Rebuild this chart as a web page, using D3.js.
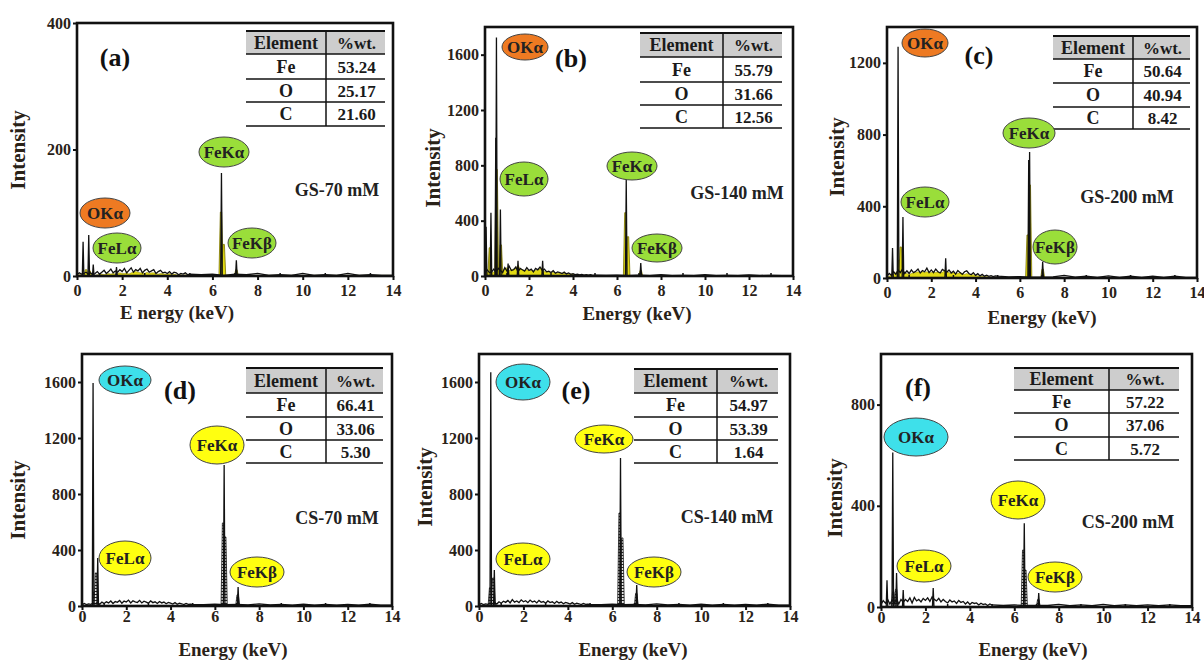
<!DOCTYPE html>
<html lang="en">
<head>
    <meta charset="UTF-8">
    <title>EDS spectra</title>
    <style>
        body { margin: 0; background: white; }
        #svg { display: block; }
        text { font-family: "Liberation Serif", "Times New Roman", serif; font-weight: bold; }
    </style>
    <script src="https://d3js.org/d3.v7.min.js"></script>
</head>
<body>
    <svg id="svg" width="1204" height="662"></svg>
    <script>
        // ---- data ----
        const xTicks = [0, 2, 4, 6, 8, 10, 12, 14];
        const panelTags = ['(a)', '(b)', '(c)', '(d)', '(e)', '(f)'];
        const sampleNames = ['GS-70 mM', 'GS-140 mM', 'GS-200 mM', 'CS-70 mM', 'CS-140 mM', 'CS-200 mM'];
        const yMax = [400, 1800, 1400, 1800, 1800, 1000];
        const yTicks = [
            [0, 200, 400],
            [0, 400, 800, 1200, 1600],
            [0, 400, 800, 1200],
            [0, 400, 800, 1200, 1600],
            [0, 400, 800, 1200, 1600],
            [0, 400, 800]
        ];
        const elements = ['Fe', 'O', 'C'];
        const wtA = ['53.24', '25.17', '21.60'];
        const wtB = ['55.79', '31.66', '12.56'];
        const wtC = ['50.64', '40.94', '8.42'];
        const wtD = ['66.41', '33.06', '5.30'];
        const wtE = ['54.97', '53.39', '1.64'];
        const wtF = ['57.22', '37.06', '5.72'];

        const bgEnergy = [0, 0.1, 0.2, 0.3, 0.4, 0.5, 0.6, 0.7, 0.8, 0.9,
            1.0, 1.1, 1.2, 1.3, 1.4, 1.5, 1.6, 1.7, 1.8, 1.9,
            2.0, 2.1, 2.2, 2.3, 2.4, 2.5, 2.6, 2.7, 2.8, 2.9,
            3.0, 3.1, 3.2, 3.3, 3.4, 3.5, 3.6, 3.7, 3.8, 3.9,
            4.0, 4.1, 4.2, 4.3, 4.4, 4.5, 4.6, 4.7, 4.8, 4.9,
            5.0, 5.5, 6.0, 6.5, 7.0, 7.5, 8.0, 8.5, 9.0, 9.5,
            10.0, 10.5, 11.0, 11.5, 12.0, 12.5, 13.0, 13.5, 14.0];

        // black background counts
        const bgA = [2, 5, 3, 4, 6, 3, 5, 2, 4, 7,
            3, 6, 9, 4, 7, 11, 5, 8, 6, 10,
            7, 12, 5, 9, 13, 6, 10, 8, 12, 5,
            9, 11, 6, 8, 10, 4, 7, 9, 5, 6,
            4, 7, 3, 6, 5, 2, 4, 3, 5, 2,
            3, 2, 3, 1, 3, 2, 4, 1, 2, 1, 4, 1, 2, 1, 4, 1, 2, 1, 1];
        const bgB = [20, 45, 25, 30, 50, 25, 55, 40, 25, 60,
            35, 70, 40, 45, 65, 30, 55, 45, 35, 60,
            40, 50, 30, 55, 45, 65, 40, 50, 30, 35,
            25, 38, 20, 30, 24, 18, 28, 15, 22, 12,
            16, 10, 14, 8, 12, 7, 10, 6, 9, 5,
            6, 4, 6, 3, 6, 3, 9, 3, 5, 3, 10, 3, 5, 3, 8, 3, 5, 3, 3];
        const bgC = [10, 25, 15, 35, 20, 45, 30, 50, 25, 40,
            25, 45, 30, 38, 50, 28, 42, 35, 55, 30,
            45, 30, 50, 35, 28, 48, 40, 32, 45, 28,
            38, 22, 42, 30, 20, 35, 40, 25, 18, 30,
            15, 24, 12, 20, 10, 16, 9, 13, 8, 12,
            10, 6, 8, 5, 5, 6, 15, 5, 10, 4, 12, 4, 10, 4, 10, 4, 10, 4, 4];
        const bgD = [8, 18, 10, 15, 12, 20, 15, 25, 12, 28,
            18, 30, 22, 36, 18, 32, 26, 40, 20, 35,
            28, 42, 22, 38, 30, 25, 40, 22, 34, 28,
            20, 36, 24, 30, 18, 32, 22, 28, 16, 26,
            20, 14, 24, 12, 20, 16, 10, 18, 12, 14,
            12, 10, 14, 10, 12, 8, 15, 7, 12, 6, 14, 6, 12, 6, 12, 6, 14, 6, 6];
        const bgE = [8, 18, 10, 15, 12, 20, 15, 25, 14, 30,
            20, 34, 26, 40, 22, 46, 28, 36, 24, 44,
            30, 38, 24, 42, 28, 35, 22, 40, 26, 32,
            20, 36, 24, 30, 18, 33, 22, 28, 16, 26,
            20, 14, 24, 12, 20, 16, 10, 18, 12, 14,
            12, 10, 14, 10, 12, 8, 15, 7, 12, 6, 14, 6, 12, 6, 12, 6, 14, 6, 6];
        const bgF = [10, 25, 15, 30, 12, 28, 15, 32, 12, 30,
            18, 30, 22, 36, 16, 38, 24, 30, 20, 34,
            26, 36, 22, 40, 30, 24, 34, 20, 30, 22,
            16, 28, 20, 24, 14, 26, 18, 22, 12, 20,
            10, 18, 14, 16, 8, 15, 10, 12, 6, 12,
            8, 6, 8, 6, 6, 6, 10, 5, 8, 5, 10, 5, 8, 5, 8, 5, 8, 5, 5];

        // yellow filled background (GS samples only)
        const fillBgA = [1, 2, 2, 1, 2, 2, 2, 2, 1, 2,
            2, 3, 2, 3, 4, 3, 4, 3, 4, 5,
            4, 4, 5, 3, 5, 6, 7, 6, 5, 5,
            4, 6, 4, 5, 5, 4, 3, 4, 4, 3,
            3, 4, 2, 3, 2, 2, 2, 1, 2, 1,
            1, 1, 1, 1, 1, 1, 1, 1, 1, 1, 1, 1, 1, 1, 1, 1, 1, 1, 1];
        const fillBgB = [10, 30, 30, 20, 30, 40, 60, 60, 40, 50,
            60, 40, 45, 50, 55, 80, 50, 45, 40, 45,
            40, 40, 35, 40, 45, 50, 60, 30, 30, 25,
            25, 25, 22, 20, 22, 20, 18, 20, 15, 15,
            12, 10, 8, 8, 6, 6, 5, 5, 4, 4,
            4, 2, 2, 2, 2, 2, 2, 2, 1, 1, 1, 1, 1, 1, 1, 1, 1, 1, 1];
        const fillBgC = [5, 10, 20, 20, 30, 40, 60, 40, 25, 25,
            20, 25, 30, 30, 35, 30, 35, 30, 35, 30,
            30, 35, 30, 35, 30, 30, 45, 35, 30, 25,
            30, 25, 25, 30, 25, 20, 25, 20, 18, 18,
            15, 12, 10, 10, 8, 8, 6, 6, 5, 5,
            5, 3, 3, 3, 3, 3, 3, 2, 2, 2, 2, 2, 2, 2, 2, 2, 2, 2, 2];

        // sharp peaks drawn in black: [energy keV, counts]
        const peaksA = [[0.27, 54], [0.52, 65], [0.72, 18], [1.75, 14], [6.40, 163], [7.06, 25]];
        const peaksB = [[0.05, 356], [0.27, 458], [0.49, 1000], [0.52, 1724], [0.70, 480], [1.05, 90], [1.50, 110], [2.62, 110], [6.42, 698], [7.08, 94]];
        const peaksC = [[0.25, 167], [0.50, 1290], [0.72, 340], [2.65, 110], [6.40, 658], [6.44, 703], [7.03, 90]];
        const peaksD = [[0.50, 1593], [0.71, 343], [6.42, 1007], [7.05, 136]];
        const peaksE = [[0.53, 1670], [0.69, 257], [6.37, 1057], [7.10, 150]];
        const peaksF = [[0.27, 106], [0.53, 611], [0.70, 134], [1.00, 67], [2.35, 75], [6.45, 331], [7.10, 55]];

        // broader filled peaks (yellow for GS, hatched for CS)
        const fillPeaksA = [[0.40, 10], [0.56, 8], [6.38, 101], [6.50, 50], [7.06, 10]];
        const fillPeaksB = [[0.22, 204], [0.53, 770], [0.72, 225], [6.38, 458], [6.50, 284], [7.08, 40]];
        const fillPeaksC = [[0.55, 100], [0.62, 173], [6.35, 240], [6.45, 519], [7.03, 50]];
        const fillPeaksD = [[0.55, 100], [0.63, 236], [6.37, 593], [6.47, 493], [7.03, 80]];
        const fillPeaksE = [[0.50, 130], [0.64, 200], [6.33, 664], [6.45, 486], [7.08, 90]];
        const fillPeaksF = [[0.55, 60], [0.68, 70], [6.40, 225], [6.50, 146], [7.08, 30]];

        // ---- layout (pixel positions) ----
        const layout = [
            { plot: [77, 23, 393, 276], tbl: [246, 326, 385, [31, 54, 79, 102, 126]], tag: [115, 66], name: [337, 196],
              xt: [177, 319], yt: [18, 150], tickY: 5,
              ovals: [['FeKα', 224, 152, 25, 15], ['OKα', 105, 213, 25, 15], ['FeLα', 117, 248, 24, 15], ['FeKβ', 252, 243, 24, 15]] },
            { plot: [485, 27, 793, 276], tbl: [640, 723, 782, [33, 57, 82, 105, 128]], tag: [571, 67], name: [737, 199],
              xt: [637, 320], yt: [433, 168], tickY: 5,
              ovals: [['OKα', 525, 47, 23, 13], ['FeLα', 524, 179, 24, 17], ['FeKα', 632, 166, 25, 14], ['FeKβ', 657, 248, 25, 14]] },
            { plot: [887, 27, 1197, 278], tbl: [1053, 1133, 1190, [36, 59, 83, 107, 129]], tag: [979, 64], name: [1127, 203],
              xt: [1042, 324], yt: [837, 157], tickY: 5,
              ovals: [['OKα', 925, 43, 23, 14], ['FeLα', 925, 202, 24, 15], ['FeKα', 1029, 133, 26, 15], ['FeKβ', 1055, 247, 22, 17]] },
            { plot: [82, 354, 392, 606], tbl: [246, 326, 383, [368, 393, 417, 440, 463]], tag: [180, 399], name: [337, 524],
              xt: [233, 656], yt: [18, 500], tickY: 1,
              ovals: [['OKα', 125, 380, 26, 14], ['FeKα', 217, 445, 27, 19], ['FeLα', 125, 558, 26, 17], ['FeKβ', 257, 572, 27, 15]] },
            { plot: [479, 354, 790, 606], tbl: [634, 717, 778, [369, 393, 417, 440, 463]], tag: [576, 399], name: [727, 523],
              xt: [633, 656], yt: [425, 487], tickY: 1,
              ovals: [['OKα', 523, 382, 27, 18], ['FeKα', 604, 439, 29, 14], ['FeLα', 523, 559, 27, 16], ['FeKβ', 654, 572, 27, 15]] },
            { plot: [881, 354, 1192, 607], tbl: [1014, 1109, 1179, [368, 390, 413, 437, 460]], tag: [918, 396], name: [1128, 528],
              xt: [1033, 656], yt: [835, 498], tickY: 1,
              ovals: [['OKα', 916, 437, 32, 19], ['FeKα', 1018, 500, 27, 19], ['FeLα', 924, 566, 27, 16], ['FeKβ', 1055, 577, 27, 15]] }
        ];

        const wtAll = [wtA, wtB, wtC, wtD, wtE, wtF];
        const bgAll = [bgA, bgB, bgC, bgD, bgE, bgF];
        const fillBgAll = [fillBgA, fillBgB, fillBgC, null, null, null];
        const peaksAll = [peaksA, peaksB, peaksC, peaksD, peaksE, peaksF];
        const fillPeaksAll = [fillPeaksA, fillPeaksB, fillPeaksC, fillPeaksD, fillPeaksE, fillPeaksF];

        const textColor = '#2a2218';
        const ovalColor = {
            gs: { 'OKα': '#ee7a22', 'FeLα': '#9ade3a', 'FeKα': '#9ade3a', 'FeKβ': '#9ade3a' },
            cs: { 'OKα': '#3ee0ea', 'FeLα': '#ffff10', 'FeKα': '#ffff10', 'FeKβ': '#ffff10' }
        };

        const svg = d3.select('#svg');
        const defs = svg.append('defs');
        const hatch = defs.append('pattern')
            .attr('id', 'hatch')
            .attr('width', 4)
            .attr('height', 3)
            .attr('patternUnits', 'userSpaceOnUse');
        hatch.append('rect').attr('width', 4).attr('height', 3).attr('fill', '#e4e4e4');
        hatch.append('path').attr('d', 'M0,0.5H4').attr('stroke', '#222').attr('stroke-width', 1);

        layout.forEach((L, i) => {
            const gs = i < 3;
            const [x0, y0, x1, y1] = L.plot;
            const x = d3.scaleLinear().domain([0, 14]).range([x0, x1]);
            const y = d3.scaleLinear().domain([0, yMax[i]]).range([y1, y0]);
            const g = svg.append('g');

            // filled background (yellow)
            if (fillBgAll[i]) {
                g.append('path')
                    .datum(bgEnergy.map((e, k) => [e, fillBgAll[i][k]]))
                    .attr('d', d3.area().x(d => x(d[0])).y0(y(0)).y1(d => y(d[1])))
                    .attr('fill', '#e2da14')
                    .attr('stroke', '#8a8000')
                    .attr('stroke-width', 0.5);
            }

            // filled peaks
            const w = 0.09;
            g.selectAll('.fpk')
                .data(fillPeaksAll[i])
                .join('path')
                .attr('class', 'fpk')
                .attr('d', d => 'M' + x(d[0] - w) + ',' + y(0) +
                    'L' + x(d[0] - w / 3) + ',' + y(d[1]) +
                    'L' + x(d[0] + w / 3) + ',' + y(d[1]) +
                    'L' + x(d[0] + w) + ',' + y(0) + 'Z')
                .attr('fill', gs ? '#e2da14' : 'url(#hatch)')
                .attr('stroke', gs ? '#7a7200' : '#111')
                .attr('stroke-width', 0.8);

            // noisy baseline
            g.append('path')
                .datum(bgEnergy.map((e, k) => [e, bgAll[i][k]]))
                .attr('d', d3.line().x(d => x(d[0])).y(d => y(d[1])))
                .attr('fill', 'none')
                .attr('stroke', '#111')
                .attr('stroke-width', 1.3);

            // sharp peaks
            const s = 0.035;
            g.selectAll('.pk')
                .data(peaksAll[i])
                .join('path')
                .attr('class', 'pk')
                .attr('d', d => 'M' + x(d[0] - s) + ',' + y(0) +
                    'L' + x(d[0]) + ',' + y(d[1]) +
                    'L' + x(d[0] + s) + ',' + y(0))
                .attr('fill', 'none')
                .attr('stroke', '#111')
                .attr('stroke-width', 1.3);

            // axes
            const xAxis = g.append('g')
                .attr('transform', 'translate(0,' + y1 + ')')
                .call(d3.axisBottom(x).tickValues(xTicks).tickFormat(d3.format('d'))
                    .tickSize(4).tickSizeOuter(0).tickPadding(L.tickY));
            const yAxis = g.append('g')
                .attr('transform', 'translate(' + x0 + ',0)')
                .call(d3.axisLeft(y).tickValues(yTicks[i]).tickFormat(d3.format('d'))
                    .tickSize(4).tickSizeOuter(0).tickPadding(2));
            [xAxis, yAxis].forEach(a => {
                a.select('.domain').remove();
                a.selectAll('line').attr('stroke', '#111').attr('stroke-width', 2);
                a.selectAll('text')
                    .attr('fill', textColor)
                    .style('font-size', '16px')
                    .style('font-family', '"Liberation Serif", serif')
                    .style('font-weight', 'bold');
            });

            // minor ticks along x inside
            g.selectAll('.mt')
                .data([1, 3, 5, 7, 9, 11, 13])
                .join('line')
                .attr('x1', d => x(d)).attr('x2', d => x(d))
                .attr('y1', y1).attr('y2', y1 - 3)
                .attr('stroke', '#111').attr('stroke-width', 1.5);

            // frame
            g.append('rect')
                .attr('x', x0).attr('y', y0)
                .attr('width', x1 - x0).attr('height', y1 - y0)
                .attr('fill', 'none')
                .attr('stroke', '#111')
                .attr('stroke-width', 2.6);

            // axis titles
            g.append('text')
                .attr('x', L.xt[0]).attr('y', L.xt[1])
                .attr('text-anchor', 'middle')
                .attr('fill', textColor)
                .style('font-size', '19px')
                .text(i === 0 ? 'E nergy (keV)' : 'Energy (keV)');
            g.append('text')
                .attr('transform', 'translate(' + (L.yt[0] + 7) + ',' + L.yt[1] + ') rotate(-90)')
                .attr('text-anchor', 'middle')
                .attr('fill', textColor)
                .style('font-size', '21px')
                .text('Intensity');

            // composition table
            const [tx0, tdiv, tx1, ty] = L.tbl;
            g.append('rect')
                .attr('x', tx0).attr('y', ty[0])
                .attr('width', tx1 - tx0).attr('height', ty[1] - ty[0])
                .attr('fill', '#cdcdcd');
            ty.forEach((yy, k) => {
                g.append('line')
                    .attr('x1', tx0).attr('x2', tx1)
                    .attr('y1', yy).attr('y2', yy)
                    .attr('stroke', '#111')
                    .attr('stroke-width', k === 0 ? 2 : 1.5);
            });
            g.append('line')
                .attr('x1', tdiv).attr('x2', tdiv)
                .attr('y1', ty[0]).attr('y2', ty[4])
                .attr('stroke', '#111').attr('stroke-width', 1.5);
            const rowsTxt = [['Element', '%wt.']].concat(elements.map((el, k) => [el, wtAll[i][k]]));
            rowsTxt.forEach((r, k) => {
                const cy = (ty[k] + ty[k + 1]) / 2 + 6;
                g.append('text')
                    .attr('x', (tx0 + tdiv) / 2).attr('y', cy)
                    .attr('text-anchor', 'middle')
                    .attr('fill', '#1a1a1a')
                    .style('font-size', '18px')
                    .text(r[0]);
                g.append('text')
                    .attr('x', (tdiv + tx1) / 2 + 1).attr('y', cy)
                    .attr('text-anchor', 'middle')
                    .attr('fill', '#1a1a1a')
                    .style('font-size', '17px')
                    .text(r[1]);
            });

            // panel tag and sample name
            g.append('text')
                .attr('x', L.tag[0]).attr('y', L.tag[1])
                .attr('text-anchor', 'middle')
                .attr('fill', '#111')
                .style('font-size', '26px')
                .text(panelTags[i]);
            g.append('text')
                .attr('x', L.name[0]).attr('y', L.name[1])
                .attr('text-anchor', 'middle')
                .attr('fill', '#222')
                .style('font-size', '18px')
                .text(sampleNames[i]);

            // peak label ovals
            const colors = gs ? ovalColor.gs : ovalColor.cs;
            L.ovals.forEach(o => {
                g.append('ellipse')
                    .attr('cx', o[1]).attr('cy', o[2])
                    .attr('rx', o[3]).attr('ry', o[4])
                    .attr('fill', colors[o[0]])
                    .attr('stroke', '#444')
                    .attr('stroke-width', 1);
                g.append('text')
                    .attr('x', o[1]).attr('y', o[2] + 6)
                    .attr('text-anchor', 'middle')
                    .attr('fill', '#222')
                    .style('font-size', '17px')
                    .text(o[0]);
            });
        });
    </script>
</body>
</html>
